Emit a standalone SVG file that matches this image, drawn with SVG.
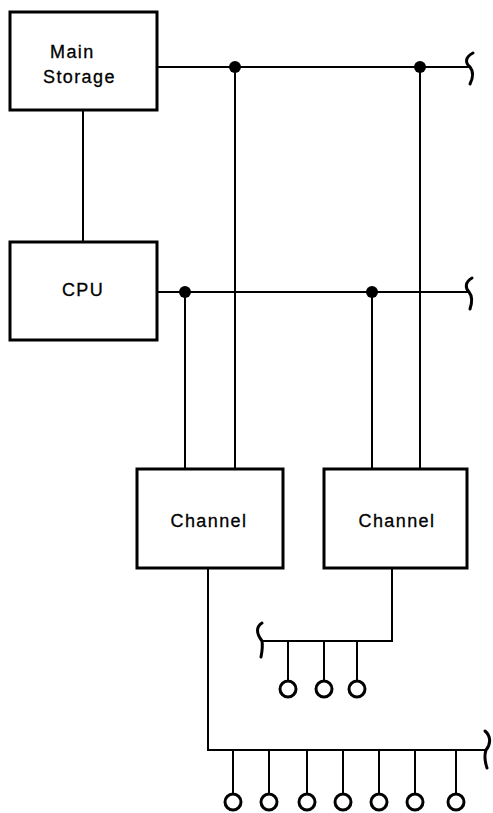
<svg xmlns="http://www.w3.org/2000/svg" width="493" height="813" viewBox="0 0 493 813">
  <style>
    .box { fill: #fff; stroke: #000; stroke-width: 3; }
    .wire { fill: none; stroke: #000; stroke-width: 2; }
    .brace { fill: none; stroke: #000; stroke-width: 3; stroke-linecap: round; }
    .dot { fill: #000; }
    .dev { fill: none; stroke: #000; stroke-width: 3; }
    .lbl { font-family: "Liberation Sans", Arial, sans-serif; font-size: 18px; letter-spacing: 1.4px; fill: #000; stroke: #000; stroke-width: 0.3; }
  </style>

  <!-- connectors: buses, taps and device drops -->
  <g id="connectors">
    <!-- storage bus -->
    <path class="wire" d="M157,67 H470"/>
    <path class="brace" d="M473,53 C465,57 465,63 470,67 C474,72 473,78 470,84"/>
    <circle class="dot" cx="235" cy="67" r="6"/>
    <circle class="dot" cx="420" cy="67" r="6"/>
    <path class="wire" d="M235,67 V469"/>
    <path class="wire" d="M420,67 V469"/>

    <!-- storage to CPU -->
    <path class="wire" d="M83,110 V242"/>

    <!-- CPU bus -->
    <path class="wire" d="M157,292 H469"/>
    <path class="brace" d="M472,278 C465,282 465,288 469,292 C473,297 472,303 470,309"/>
    <circle class="dot" cx="185" cy="292" r="6"/>
    <circle class="dot" cx="372" cy="292" r="6"/>
    <path class="wire" d="M185,292 V469"/>
    <path class="wire" d="M372,292 V469"/>

    <!-- second channel device bus -->
    <path class="wire" d="M392,568 V641 H262"/>
    <path class="brace" d="M262,623 C256,627 256,633 262,641 C263,647 262,652 261,657"/>
    <path class="wire" d="M288,641 V681"/>
    <path class="wire" d="M324,641 V681"/>
    <path class="wire" d="M357,641 V681"/>
    <circle class="dev" cx="288" cy="689" r="8"/>
    <circle class="dev" cx="324" cy="689" r="8"/>
    <circle class="dev" cx="357" cy="689" r="8"/>

    <!-- first channel device bus -->
    <path class="wire" d="M208,568 V750 H486"/>
    <path class="brace" d="M485,731 C491,736 491,744 486,750 C484,756 485,762 487,768"/>
    <path class="wire" d="M233,750 V794"/>
    <path class="wire" d="M269,750 V794"/>
    <path class="wire" d="M307,750 V794"/>
    <path class="wire" d="M343,750 V794"/>
    <path class="wire" d="M379,750 V794"/>
    <path class="wire" d="M415,750 V794"/>
    <path class="wire" d="M456,750 V794"/>
    <circle class="dev" cx="233" cy="802" r="8"/>
    <circle class="dev" cx="269" cy="802" r="8"/>
    <circle class="dev" cx="307" cy="802" r="8"/>
    <circle class="dev" cx="343" cy="802" r="8"/>
    <circle class="dev" cx="379" cy="802" r="8"/>
    <circle class="dev" cx="415" cy="802" r="8"/>
    <circle class="dev" cx="456" cy="802" r="8"/>
  </g>

  <g id="main-storage">
    <rect class="box" x="10" y="12" width="147" height="98"/>
    <text class="lbl" x="50" y="58">Main</text>
    <text class="lbl" x="43" y="83">Storage</text>
  </g>

  <g id="cpu">
    <rect class="box" x="10" y="242" width="147" height="98"/>
    <text class="lbl" x="83" y="296" text-anchor="middle">CPU</text>
  </g>

  <g id="channel-1">
    <rect class="box" x="137" y="469" width="146" height="99"/>
    <text class="lbl" x="209" y="527" text-anchor="middle">Channel</text>
  </g>

  <g id="channel-2">
    <rect class="box" x="324" y="469" width="143" height="99"/>
    <text class="lbl" x="397" y="527" text-anchor="middle">Channel</text>
  </g>
</svg>
